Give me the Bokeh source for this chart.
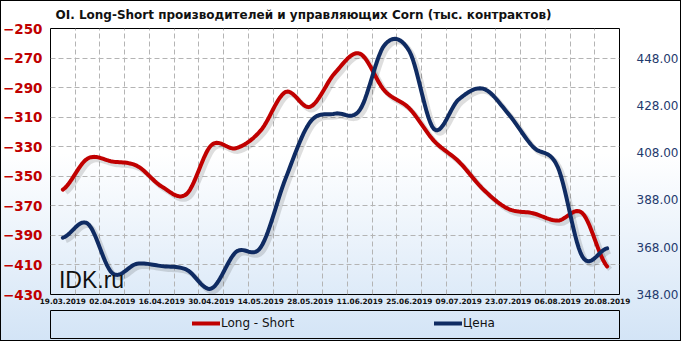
import numpy as np
from bokeh.plotting import figure
from bokeh.models import (Range1d, LinearAxis, FixedTicker, Label, Legend, LegendItem,
                          NumeralTickFormatter)
from bokeh.layouts import column
from bokeh.embed import file_html
from bokeh.resources import INLINE

# ---- data ----
dates = ["19.03.2019", "26.03.2019", "02.04.2019", "09.04.2019", "16.04.2019", "23.04.2019",
         "30.04.2019", "07.05.2019", "14.05.2019", "21.05.2019", "28.05.2019", "04.06.2019",
         "11.06.2019", "18.06.2019", "25.06.2019", "02.07.2019", "09.07.2019", "16.07.2019",
         "23.07.2019", "30.07.2019", "06.08.2019", "13.08.2019", "20.08.2019"]
long_short = [-359, -338, -340, -343, -357, -362, -329, -331, -319, -293, -303, -280,
              -267, -292, -304, -326, -340, -359, -372, -375, -380, -375, -411]
price = [372, 378, 357, 361, 360, 358.5, 350.5, 366, 368, 397, 421, 424.5,
         426, 453.5, 451, 418, 430.5, 435, 424.5, 410.5, 402, 364, 367.5]
left_ticks = [-430, -410, -390, -370, -350, -330, -310, -290, -270, -250]
right_ticks = [348, 368, 388, 408, 428, 448]

RED = "#c00000"
NAVY = "#0f2b62"


def smooth(ys, n=14):
    """Catmull-Rom rendering of a series (like Excel's smoothed line)."""
    ys = list(ys)
    m = len(ys)
    xo, yo = [], []
    for i in range(m - 1):
        p0 = ys[i - 1] if i > 0 else ys[i]
        p1, p2 = ys[i], ys[i + 1]
        p3 = ys[i + 2] if i + 2 < m else ys[i + 1]
        for t in np.linspace(0, 1, n, endpoint=False):
            yv = 0.5 * (2 * p1 + (-p0 + p2) * t + (2 * p0 - 5 * p1 + 4 * p2 - p3) * t ** 2
                        + (-p0 + 3 * p1 - 3 * p2 + p3) * t ** 3)
            xo.append(i + t)
            yo.append(yv)
    xo.append(m - 1)
    yo.append(ys[-1])
    return np.array(xo), np.array(yo)


n = len(dates)
p = figure(width=681, height=308, x_range=Range1d(-0.5, n - 0.5),
           y_range=Range1d(left_ticks[0], left_ticks[-1]),
           output_backend="svg", toolbar_location=None,
           min_border_left=46, min_border_right=57, min_border_top=28, min_border_bottom=14)
p.background_fill_color = None
p.border_fill_color = None
p.outline_line_color = "black"
p.outline_line_width = 1
p.extra_y_ranges = {"price": Range1d(348, 460.5)}

p.title.text = "OI. Long-Short производителей и управляющих Corn (тыс. контрактов)"
p.title.text_font = "DejaVu Sans"
p.title.text_font_size = "12px"
p.title.text_font_style = "bold"
p.title.text_color = "#111111"
p.title.align = "left"
p.title.vertical_align = "top"
p.title.offset = 5

# left axis
ya = p.yaxis[0]
ya.ticker = FixedTicker(ticks=left_ticks)
ya.axis_line_color = None
ya.major_tick_line_color = None
ya.minor_tick_line_color = None
ya.major_label_text_color = RED
ya.major_label_text_font = "DejaVu Sans"
ya.major_label_text_font_style = "bold"
ya.major_label_text_font_size = "13.5px"
ya.major_label_standoff = 2

# right axis
ra = LinearAxis(y_range_name="price", ticker=FixedTicker(ticks=right_ticks),
                formatter=NumeralTickFormatter(format="0.00"))
ra.axis_line_color = None
ra.major_tick_line_color = None
ra.minor_tick_line_color = None
ra.major_label_text_color = "#1f3a6e"
ra.major_label_text_font = "DejaVu Sans"
ra.major_label_text_font_size = "12px"
ra.major_label_standoff = 11
p.add_layout(ra, "right")

# x axis
xa = p.xaxis[0]
xa.ticker = FixedTicker(ticks=list(range(0, n, 2)))
xa.major_label_overrides = {i: dates[i] for i in range(0, n, 2)}
xa.axis_line_color = None
xa.major_tick_line_color = None
xa.minor_tick_line_color = None
xa.major_tick_out = 0
xa.major_tick_in = 0
xa.minor_tick_out = 0
xa.axis_label_standoff = 0
xa.major_label_text_font = "DejaVu Sans"
xa.major_label_text_font_style = "bold"
xa.major_label_text_font_size = "7.3px"
xa.major_label_text_color = "#111111"
xa.major_label_standoff = 3

# grids
p.xgrid.ticker = FixedTicker(ticks=[i + 0.5 for i in range(n - 1)])
for g in (p.xgrid[0], p.ygrid[0]):
    g.grid_line_color = "#b4b4b4"
    g.grid_line_dash = "5 3"
    g.grid_line_width = 1
p.ygrid.ticker = FixedTicker(ticks=left_ticks[1:-1])

# watermark
p.add_layout(Label(x=-0.16, y=-420.5, text="IDK.ru", text_font="Liberation Sans",
                   text_font_size="23px", text_color="#111111", text_baseline="alphabetic"))

# series
xs_r, ys_r = smooth(long_short)
xs_b, ys_b = smooth(price)
p.line(xs_r + 0.12, ys_r - 2.0, line_color="black", line_alpha=0.13, line_width=5)
p.line(xs_b + 0.12, ys_b - 1.25, line_color="black", line_alpha=0.13, line_width=5,
       y_range_name="price")
r_red = p.line(xs_r, ys_r, line_color=RED, line_width=4, line_join="round", line_cap="round")
r_blue = p.line(xs_b, ys_b, line_color=NAVY, line_width=4, line_join="round", line_cap="round",
                y_range_name="price")

# legend strip
p2 = figure(width=681, height=33, x_range=Range1d(0, 1), y_range=Range1d(0, 1),
            output_backend="svg", toolbar_location=None,
            x_axis_location=None, y_axis_location=None,
            min_border_left=48, min_border_right=47, min_border_top=2, min_border_bottom=3)
p2.background_fill_color = None
p2.border_fill_color = None
p2.outline_line_color = "black"
p2.grid.visible = False
# placeholder renderers (kept outside the visible range) that only feed the legend swatches
l1 = p2.line([-3, -2], [-3, -2], line_color=RED, line_width=4, line_cap="round")
l2 = p2.line([-3, -2], [-3, -2], line_color=NAVY, line_width=4, line_cap="round")
for rend, lab, loc in ((l1, "Long - Short", (142, 7)), (l2, "Цена", (384, 7))):
    lg = Legend(items=[LegendItem(label=lab, renderers=[rend])], location=loc,
                padding=0, margin=0, border_line_color=None, background_fill_color=None,
                background_fill_alpha=0, glyph_width=28, glyph_height=16, label_standoff=1,
                label_text_font="DejaVu Sans", label_text_font_size="12px",
                label_text_color="#111111", label_height=16)
    p2.add_layout(lg)

layout = column(p, p2, spacing=0,
                styles={"background-image": "linear-gradient(to bottom, #ffffff 0%, #ffffff 45%, #d3e4f6 100%)",
                        "outline": "1px solid #000", "outline-offset": "-1px"})

open("out.html", "w").write(file_html(layout, INLINE))
